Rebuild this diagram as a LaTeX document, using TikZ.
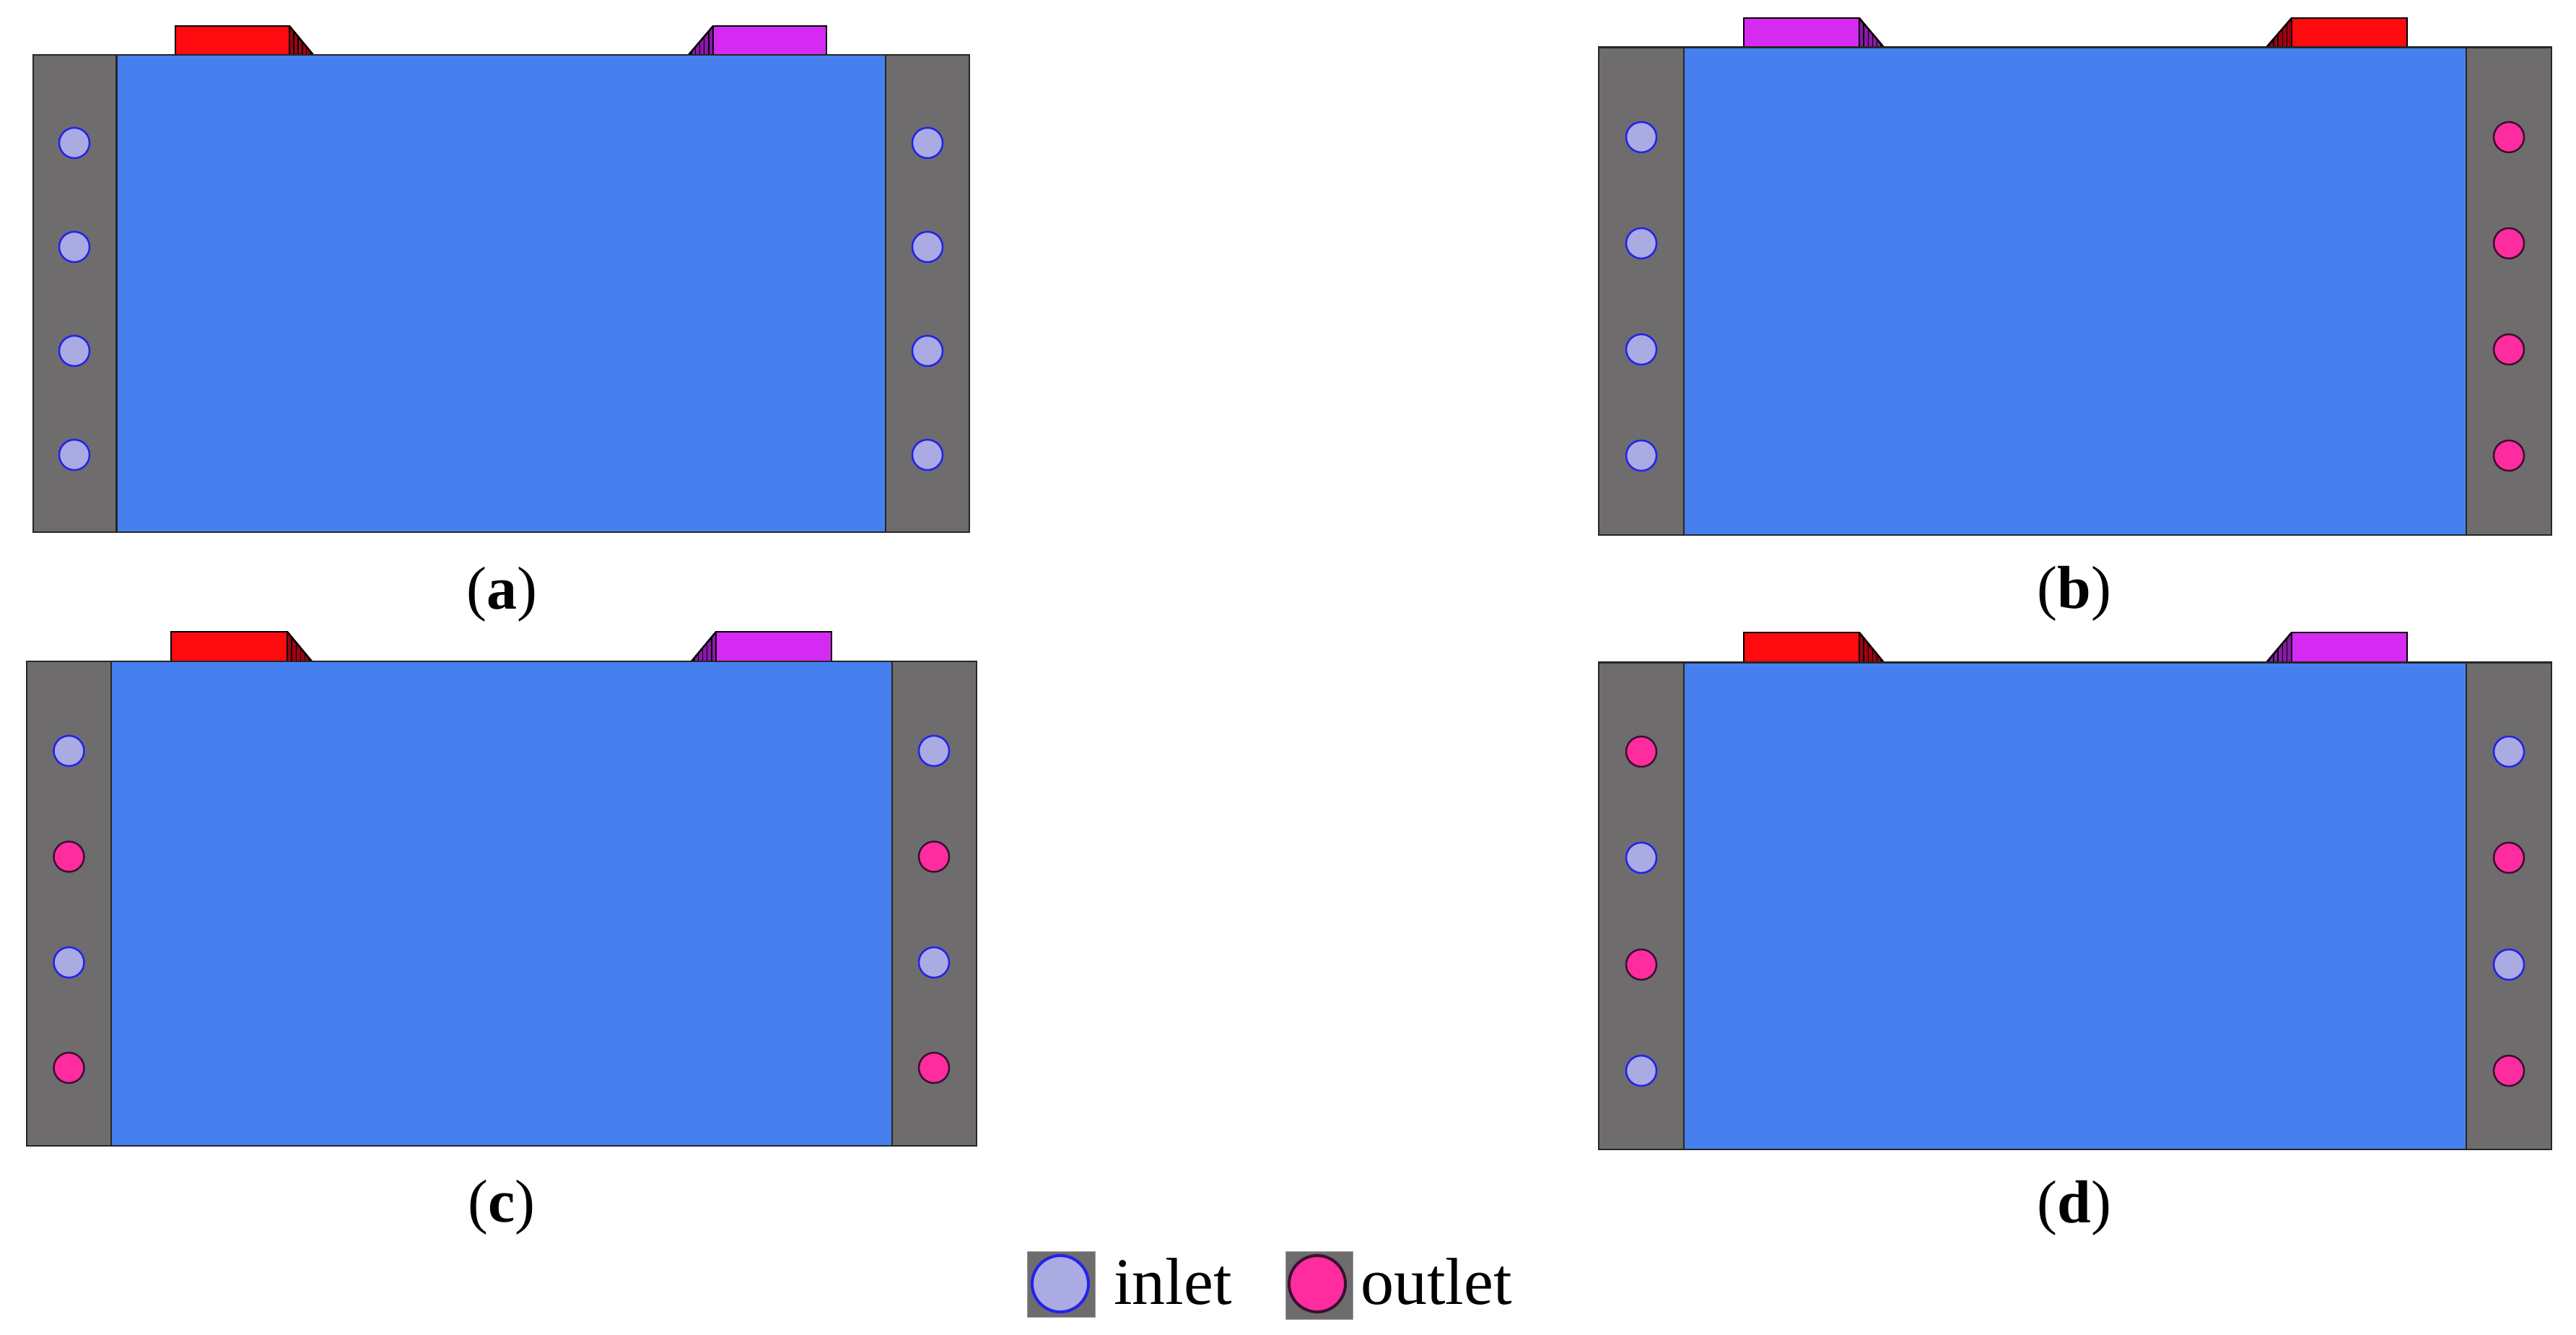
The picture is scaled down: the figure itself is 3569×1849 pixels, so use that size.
\documentclass[tikz,border=0pt]{standalone}
\usepackage{fontspec}
\setmainfont{Liberation Serif}
\definecolor{plateblue}{HTML}{4580EE}
\definecolor{sidegray}{HTML}{6E6C6C}
\definecolor{chipred}{HTML}{FF0A0F}
\definecolor{chipredd}{HTML}{A00010}
\definecolor{chippur}{HTML}{D52AF2}
\definecolor{chippurd}{HTML}{8A18A8}
\definecolor{inletc}{HTML}{ABABE3}
\definecolor{inletb}{HTML}{2222EE}
\definecolor{outletc}{HTML}{FF2C9F}
\definecolor{outletb}{HTML}{3A1030}
\tikzset{
  body/.style={draw=black!85,line width=2.5pt},
  inport/.style={circle,draw=inletb,fill=inletc,line width=2.5pt,inner sep=0pt,minimum size=42pt},
  outport/.style={circle,draw=outletb,fill=outletc,line width=2.5pt,inner sep=0pt,minimum size=42pt},
  biginport/.style={inport,line width=4pt,minimum size=78pt},
  bigoutport/.style={outport,line width=4pt,minimum size=78pt},
  chipface/.style={draw=black,line width=2.5pt},
  caption/.style={inner sep=0pt,anchor=base,font=\fontsize{84}{100}\selectfont},
  legendtext/.style={inner sep=0pt,anchor=base west,font=\fontsize{92}{110}\selectfont},
  legendsq/.style={fill=sidegray,draw=black!40,line width=1pt}
}
% chip: #1 outer end (slope foot), #2 slope top, #3 far end, #4 top y, #5 base y, #6 fill, #7 dark
\newcommand{\chipbox}[7]{%
  \fill[#7] (#1,#5) -- (#2,#4) -- (#2,#5) -- cycle;
  \foreach \f in {0.18,0.36,0.54,0.72,0.88}{%
    \pgfmathsetmacro{\xx}{#2+(#1-#2)*\f}
    \pgfmathsetmacro{\yy}{#4+(#5-#4)*\f}
    \draw[black,line width=1.4pt] (\xx,\yy) -- (\xx,#5);
  }
  \draw[black,line width=2.5pt] (#1,#5) -- (#2,#4);
  \filldraw[fill=#6,chipface] (#2,#5) -- (#2,#4) -- (#3,#4) -- (#3,#5);
}
% panel: #1 L, #2 gray right, #3 blue right, #4 R, #5 top, #6 bottom
\newcommand{\platebox}[6]{%
  \filldraw[fill=plateblue,body] (#2,#5) rectangle (#3,#6);
  \filldraw[fill=sidegray,body] (#1,#5) rectangle (#2,#6);
  \filldraw[fill=sidegray,body] (#3,#5) rectangle (#4,#6);
}
\begin{document}
\begin{tikzpicture}[x=1pt,y=-1pt]
\useasboundingbox (0,0) rectangle (3569,1849);
% (a)
\chipbox{434}{401}{243}{36}{76}{chipred}{chipredd}
\chipbox{954}{988}{1145}{36}{76}{chippur}{chippurd}
\platebox{46}{161.5}{1227}{1343}{76}{737}
\foreach \n/\y in {1/198,2/342,3/486,4/630}{
  \node[inport] (al\n) at (103,\y) {};
  \node[inport] (ar\n) at (1285,\y) {};
}
\node[caption] (capa) at (695,843) {(\textbf{a})};
% (b)
\chipbox{2610}{2576}{2416}{25}{65.5}{chippur}{chippurd}
\chipbox{3140}{3175}{3335}{25}{65.5}{chipred}{chipredd}
\platebox{2215}{2333}{3417}{3535}{65.5}{741}
\foreach \n/\y in {1/190,2/337,3/484,4/631}{
  \node[inport] (bl\n) at (2274,\y) {};
  \node[outport] (br\n) at (3476,\y) {};
}
\node[caption] (capb) at (2874,842) {(\textbf{b})};
% (c)
\chipbox{432}{398}{237}{875}{916}{chipred}{chipredd}
\chipbox{958}{992}{1152}{875}{916}{chippur}{chippurd}
\platebox{37}{154}{1236}{1353}{916}{1587}
\foreach \n/\y/\s in {1/1040/inport,2/1186.5/outport,3/1333/inport,4/1479/outport}{
  \node[\s] (cl\n) at (95.5,\y) {};
  \node[\s] (cr\n) at (1294,\y) {};
}
\node[caption] (capc) at (695,1692) {(\textbf{c})};
% (d)
\chipbox{2610}{2576}{2416}{876}{917.5}{chipred}{chipredd}
\chipbox{3140}{3175}{3335}{876}{917.5}{chippur}{chippurd}
\platebox{2215}{2333}{3417}{3535}{917.5}{1592}
\foreach \n/\y/\s/\t in {1/1041/outport/inport,2/1188/inport/outport,3/1336/outport/inport,4/1483/inport/outport}{
  \node[\s] (dl\n) at (2274,\y) {};
  \node[\t] (dr\n) at (3476,\y) {};
}
\node[caption] (capd) at (2874,1693) {(\textbf{d})};
% legend
\fill[legendsq] (1423,1733) rectangle (1517,1824);
\node[biginport] (legin) at (1469,1778) {};
\node[legendtext] (legintext) at (1543,1806) {inlet};
\fill[legendsq] (1781,1733) rectangle (1874,1827);
\node[bigoutport] (legout) at (1825,1778) {};
\node[legendtext] (legouttext) at (1885,1806) {outlet};
\end{tikzpicture}
\end{document}
